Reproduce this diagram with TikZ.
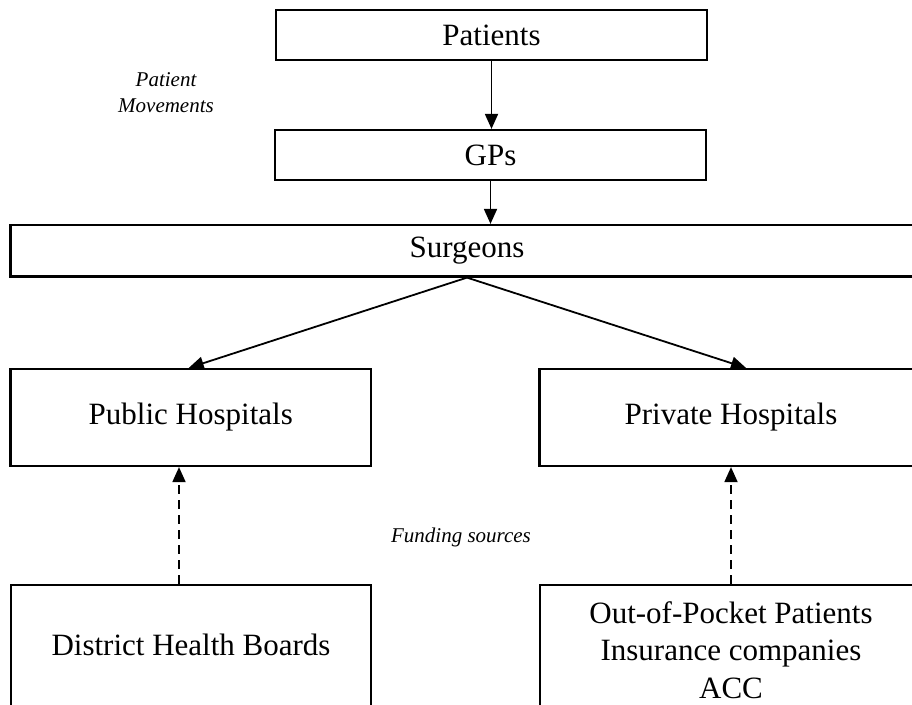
\documentclass[tikz,border=0pt]{standalone}
\usepackage{fontspec}
\setmainfont{Liberation Serif}
\usetikzlibrary{arrows.meta}
\begin{document}
\begin{tikzpicture}[x=1pt,y=-1pt,
  box/.style={draw,line width=2.2pt,rectangle,inner sep=0pt,font=\fontsize{31}{37.5}\selectfont,align=center},
  arr/.style={line width=1.8pt,-{Triangle[length=15pt,width=13pt]}},
  darr/.style={arr,dash pattern=on 9pt off 6pt},
  lbl/.style={font=\fontsize{21}{26}\selectfont\itshape,align=center}]
\useasboundingbox (0,0) rectangle (912,704);
\clip (0,0) rectangle (912,704);
\node[box,minimum width=431pt,minimum height=50pt] (pat) at (491.5,35) {Patients};
\node[box,minimum width=431pt,minimum height=50pt] (gps) at (490.5,155) {GPs};
\node[box,minimum width=913pt,minimum height=51.5pt] (surg) at (467,250.75) {Surgeons};
\node[box,minimum width=360.5pt,minimum height=97pt] (pub) at (190.75,417.5) {Public Hospitals};
\node[box,minimum width=383pt,minimum height=97pt] (priv) at (731,417.5) {Private Hospitals};
\node[box,minimum width=360pt,minimum height=125pt] (dhb) at (191,647.5) {};
\node at (191,645) {\fontsize{31}{37.5}\selectfont District Health Boards};
\node[box,minimum width=382pt,minimum height=125pt] (fund) at (731,647.5) {};
\node[font=\fontsize{31}{37.5}\selectfont,align=center] (fundtxt) at (731,650) {Out-of-Pocket Patients\\Insurance companies\\ACC};
\node[lbl] (pm) at (166,93) {Patient\\Movements};
\node[lbl] (fs) at (461,537) {Funding sources};
\draw[arr] (pat.south) -- (pat.south |- gps.north);
\draw[arr] (gps.south) -- (gps.south |- surg.north);
\draw[arr] (surg.south) -- ([xshift=-2pt]pub.north);
\draw[arr] (surg.south) -- ([xshift=15pt]priv.north);
\draw[darr] ([xshift=-12pt]dhb.north) -- ([xshift=-12pt]dhb.north |- pub.south);
\draw[darr] (fund.north) -- (fund.north |- priv.south);
\end{tikzpicture}
\end{document}
